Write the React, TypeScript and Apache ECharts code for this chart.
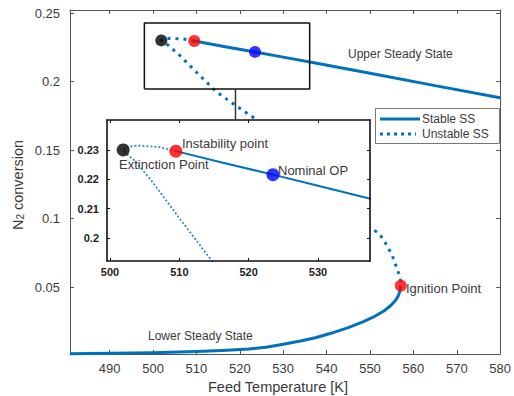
import React, { useEffect, useRef } from "react";
import * as echarts from "echarts";

// ---------- data ----------
const xTicks = [490, 500, 510, 520, 530, 540, 550, 560, 570, 580];
const yTicks = [0.05, 0.1, 0.15, 0.2, 0.25];
const insetXTicks = [500, 510, 520, 530];
const insetYTicks = [0.2, 0.21, 0.22, 0.23];

const xRange = [480.86, 580];
const yRange = [0.0011, 0.2522];
const insetXRange = [499.57, 537.5];
const insetYRange = [0.1922, 0.2402];
const zoomBoxX = [498.0, 536.1];
const zoomBoxY = [0.1945, 0.2427];
const connectorX = 519.0;
const connectorY = [0.1945, 0.165];

const lowerStable: [number, number][] = [
  [480.86, 0.0013], [490, 0.0016], [500, 0.0021], [510, 0.0029], [516, 0.0036],
  [522.1, 0.0047], [526, 0.0060], [529.7, 0.0080], [534, 0.0106], [537.4, 0.0130],
  [541, 0.0162], [545.0, 0.0204], [548.5, 0.0247], [551.1, 0.0286], [553.2, 0.0325],
  [554.8, 0.0365], [555.9, 0.0403], [556.5, 0.0435], [556.9, 0.047], [557.1, 0.051],
];
const upperStable: [number, number][] = [
  [509.5, 0.2296], [516, 0.2258], [523.5, 0.2216], [530, 0.2178], [537.4, 0.2135],
  [550, 0.206], [565, 0.197], [580, 0.1882],
];
const unstable: [number, number][] = [
  [509.5, 0.2296], [507, 0.2310], [504, 0.2315], [502.4, 0.2310], [501.9, 0.2300],
  [502.4, 0.2286], [503.5, 0.2265], [506, 0.2195], [510, 0.2068], [514.6, 0.1925],
  [519, 0.1826], [523.3, 0.1734], [530, 0.155], [540, 0.125], [549.5, 0.094],
  [552.1, 0.0892], [553.6, 0.0819], [555.1, 0.0733], [556.2, 0.0636], [557.0, 0.0563],
  [557.1, 0.051],
];
const extinctionPoint: [number, number] = [501.9, 0.23];
const instabilityPoint: [number, number] = [509.5, 0.2296];
const nominalOP: [number, number] = [523.5, 0.2216];
const ignitionPoint: [number, number] = [557.1, 0.051];

const legendLabels = ["Stable SS", "Unstable SS"];

// ---------- styles ----------
const BLUE = "#0072BD";
const FONT = "Liberation Sans";
const TXT = "#3a3a3a";
const AX = "#555555";

function axisCommon(min: number, max: number, ticks: number[], opts: any) {
  return {
    type: "value",
    min,
    max,
    splitLine: { show: false },
    axisLine: { show: true, onZero: false, lineStyle: { color: opts.lineColor, width: opts.lineWidth } },
    axisTick: {
      show: true,
      inside: true,
      length: opts.tickLen,
      customValues: ticks,
      lineStyle: { color: opts.lineColor, width: 1 },
    },
    axisLabel: {
      show: opts.showLabel,
      customValues: ticks,
      margin: opts.margin,
      fontSize: opts.fontSize,
      fontWeight: opts.fontWeight || "normal",
      color: opts.labelColor,
      fontFamily: FONT,
      formatter: (v: number) => String(+Number(v).toFixed(4)),
    },
  };
}

export default function App() {
  const ref = useRef<HTMLDivElement>(null);
  useEffect(() => {
    if (!ref.current) return;
    const chart = echarts.init(ref.current, null, { renderer: "svg" });
    const mainAx = { lineColor: AX, lineWidth: 1, tickLen: 4, fontSize: 13, labelColor: TXT };
    const insAx = { lineColor: "#111", lineWidth: 1.6, tickLen: 3, fontSize: 11, fontWeight: "bold", labelColor: "#222" };

    const boxData = [
      [zoomBoxX[0], zoomBoxY[0]], [zoomBoxX[1], zoomBoxY[0]], [zoomBoxX[1], zoomBoxY[1]],
      [zoomBoxX[0], zoomBoxY[1]], [zoomBoxX[0], zoomBoxY[0]],
    ];

    const textEl = (text: string, x: number, y: number, size: number, align = "left") => ({
      type: "text",
      x,
      y,
      z: 100,
      style: { text, fill: TXT, fontSize: size, fontFamily: FONT, align, verticalAlign: "middle" },
    });

    chart.setOption({
      animation: false,
      backgroundColor: "#fff",
      grid: [
        { left: 70, top: 10, width: 435, height: 344, show: false },
        { left: 107, top: 120, width: 263, height: 141, show: true, backgroundColor: "#fff", borderWidth: 0, z: 5 },
      ],
      xAxis: [
        { gridIndex: 0, position: "bottom", ...axisCommon(xRange[0], xRange[1], xTicks, { ...mainAx, showLabel: true, margin: 8 }) },
        { gridIndex: 0, position: "top", ...axisCommon(xRange[0], xRange[1], xTicks, { ...mainAx, showLabel: false, margin: 8 }) },
        { gridIndex: 1, position: "bottom", z: 8, ...axisCommon(insetXRange[0], insetXRange[1], insetXTicks, { ...insAx, showLabel: true, margin: 5 }) },
        { gridIndex: 1, position: "top", z: 8, ...axisCommon(insetXRange[0], insetXRange[1], insetXTicks, { ...insAx, showLabel: false, margin: 5 }) },
      ],
      yAxis: [
        { gridIndex: 0, position: "left", ...axisCommon(yRange[0], yRange[1], yTicks, { ...mainAx, showLabel: true, margin: 10 }) },
        { gridIndex: 0, position: "right", ...axisCommon(yRange[0], yRange[1], yTicks, { ...mainAx, showLabel: false, margin: 10 }) },
        { gridIndex: 1, position: "left", z: 8, ...axisCommon(insetYRange[0], insetYRange[1], insetYTicks, { ...insAx, showLabel: true, margin: 8 }) },
        { gridIndex: 1, position: "right", z: 8, ...axisCommon(insetYRange[0], insetYRange[1], insetYTicks, { ...insAx, showLabel: false, margin: 8 }) },
      ],
      series: [
        { type: "line", xAxisIndex: 0, yAxisIndex: 0, data: lowerStable, showSymbol: false, clip: false, z: 2,
          lineStyle: { color: BLUE, width: 3, join: "round" } },
        { type: "line", xAxisIndex: 0, yAxisIndex: 0, data: upperStable, showSymbol: false, clip: false, z: 2,
          lineStyle: { color: BLUE, width: 3 } },
        { type: "line", xAxisIndex: 0, yAxisIndex: 0, data: unstable, showSymbol: false, clip: false, z: 2,
          lineStyle: { color: BLUE, width: 3, type: [3, 5] } },
        { type: "line", xAxisIndex: 0, yAxisIndex: 0, data: boxData, showSymbol: false, clip: false, z: 3,
          lineStyle: { color: "#111", width: 1.5 } },
        { type: "line", xAxisIndex: 0, yAxisIndex: 0, data: [[connectorX, connectorY[0]], [connectorX, connectorY[1]]],
          showSymbol: false, clip: false, z: 3, lineStyle: { color: "#333", width: 1.5 } },
        { type: "scatter", xAxisIndex: 0, yAxisIndex: 0, symbolSize: 12, z: 4, clip: false,
          data: [
            { value: extinctionPoint, itemStyle: { color: "#000" } },
            { value: instabilityPoint, itemStyle: { color: "#ff0000" } },
            { value: nominalOP, itemStyle: { color: "#0000ff" } },
            { value: ignitionPoint, itemStyle: { color: "#ff0000" } },
          ] },
        { type: "line", xAxisIndex: 2, yAxisIndex: 2, data: upperStable, showSymbol: false, clip: true, z: 6,
          lineStyle: { color: BLUE, width: 2 } },
        { type: "line", xAxisIndex: 2, yAxisIndex: 2, data: unstable, showSymbol: false, clip: true, z: 6,
          lineStyle: { color: "#2f8ad0", width: 1.8, type: [2, 2] } },
        { type: "scatter", xAxisIndex: 2, yAxisIndex: 2, symbolSize: 13, z: 7,
          data: [
            { value: extinctionPoint, itemStyle: { color: "#000" } },
            { value: instabilityPoint, itemStyle: { color: "#ff0000" } },
            { value: nominalOP, itemStyle: { color: "#0000ff" } },
          ] },
      ],
      graphic: [
        // axis titles
        textEl("Feed Temperature [K]", 278, 387, 14.5, "center"),
        {
          type: "text", x: 16, y: 185, rotation: Math.PI / 2, z: 100,
          style: {
            text: "{n|N}{s|2}{n| conversion}",
            align: "center", verticalAlign: "middle", fill: TXT, fontFamily: FONT,
            rich: {
              n: { fontSize: 14.5, lineHeight: 18, verticalAlign: "bottom", fill: TXT, fontFamily: FONT },
              s: { fontSize: 10, lineHeight: 10, verticalAlign: "bottom", fill: TXT, fontFamily: FONT },
            },
          },
        },
        // annotations
        textEl("Upper Steady State", 348, 54, 12),
        textEl("Lower Steady State", 148, 336, 12),
        textEl("Ignition Point", 406, 288, 13),
        textEl("Instability point", 182, 143, 13),
        textEl("Extinction Point", 119, 164, 13),
        textEl("Nominal OP", 278, 170, 13),
        // legend
        { type: "rect", z: 100, shape: { x: 375.5, y: 108.5, width: 124, height: 35 },
          style: { fill: "#fff", stroke: "#777", lineWidth: 1 } },
        { type: "line", z: 101, shape: { x1: 380, y1: 119, x2: 420, y2: 119 },
          style: { stroke: BLUE, lineWidth: 3 } },
        { type: "line", z: 101, shape: { x1: 380, y1: 134, x2: 416, y2: 134 },
          style: { stroke: BLUE, lineWidth: 3, lineDash: [3, 4] } },
        { ...textEl(legendLabels[0], 422, 119, 12), z: 102 },
        { ...textEl(legendLabels[1], 422, 134, 12), z: 102 },
      ],
    });
    return () => chart.dispose();
  }, []);
  return (
    <div
      ref={ref}
      style={{ position: "absolute", left: 0, top: 0, width: 514, height: 396, background: "#fff" }}
    />
  );
}
